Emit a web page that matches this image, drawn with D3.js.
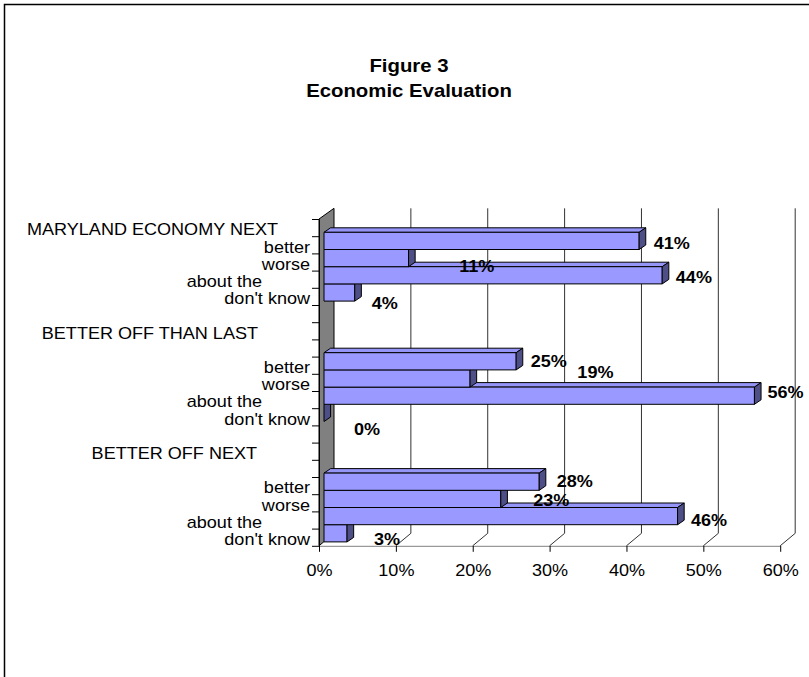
<!DOCTYPE html>
<html>
<head>
<meta charset="utf-8">
<script src="https://cdn.jsdelivr.net/npm/d3@7"></script>
<style>
  body { margin: 0; background: #fff; }
  svg { display: block; }
  text { font-family: "Liberation Sans", Arial, sans-serif; }
</style>
</head>
<body>
<svg id="chart" width="809" height="677"></svg>
<script>
// ---- chart data ----
const titleLines = ["Figure 3", "Economic Evaluation"];
const categories = [
  "MARYLAND ECONOMY NEXT", "better", "worse", "about the", "don't know", "",
  "BETTER OFF THAN LAST", "", "better", "worse", "about the", "don't know", "",
  "BETTER OFF NEXT", "", "better", "worse", "about the", "don't know"
];
const values = [
  null, 41, 11, 44, 4, null,
  null, null, 25, 19, 56, 0, null,
  null, null, 28, 23, 46, 3
];
const percentTicks = [0, 10, 20, 30, 40, 50, 60];

// ---- layout tweaks for text placement ----
// how far each category label's right end sits in from the axis
const labelIndent = [32, 0, 0, 48, 0, 0, 52, 0, 0, 0, 48, 0, 0, 53, 0, 0, 0, 48, 0];
// per-bar adjustment [dx, dy] of the value label from its default spot
const valueLabelNudge = [
  null, [0, 0], [36, 5], [-1, -0.5], [2.4, 8.3], null,
  null, null, [0, -3], [92.7, -8.7], [-1.6, -6.7], [15.4, 13.6], null,
  null, null, [2.9, -2.9], [17.9, -1.4], [-1.2, 1.1], [12.3, 3.2]
];

const W = 809, H = 677;
const STRETCH = 1.15;          // horizontal glyph stretch used for all text
const FONT = 15.7, TITLE_FONT = 17.7;

const svg = d3.select("#chart");

// outer frame
svg.append("rect")
  .attr("x", 4.5).attr("y", 4.5)
  .attr("width", W + 40).attr("height", H + 40)
  .attr("fill", "#fff").attr("stroke", "#000").attr("stroke-width", 1.5);

// title
svg.append("g").selectAll("text").data(titleLines).join("text")
  .attr("transform", (d, i) => `translate(409,${72 + i * 24.7}) scale(${STRETCH},1)`)
  .attr("text-anchor", "middle")
  .attr("font-weight", "bold")
  .attr("font-size", TITLE_FONT)
  .text(d => d);

// ---- scales ----
const yTop = 219, yBottom = 545.8;
const x = d3.scaleLinear().domain([0, 60]).range([319, 780.2]);
const y = d3.scaleBand().domain(d3.range(categories.length)).range([yTop, yBottom]);
const yEdge = d3.scaleLinear().domain([0, categories.length]).range([yTop, yBottom]);
const bw = y.bandwidth();

const wall = { dx: 15, dyTop: -10.7, dyBottom: -12.5 };
const barOff = { dx: 5, dy: -3.9 };
const barDepth = { dx: 6.6, dy: -4.5 };

const line = d3.line();

// left (side) wall
svg.append("path")
  .attr("d", line([
    [x(0), yTop], [x(0) + wall.dx, yTop + wall.dyTop],
    [x(0) + wall.dx, yBottom + wall.dyBottom], [x(0), yBottom]
  ]) + "Z")
  .attr("fill", "#808080").attr("stroke", "#000").attr("stroke-width", 1);

// gridlines on the back wall running down and forward across the floor
svg.append("g").selectAll("path").data(percentTicks.filter(v => v > 0)).join("path")
  .attr("d", v => line([
    [x(v) + wall.dx, yTop + wall.dyTop],
    [x(v) + wall.dx, yBottom + wall.dyBottom],
    [x(v), yBottom]
  ]))
  .attr("fill", "none").attr("stroke", "#333").attr("stroke-width", 1);

// value axis along the front edge of the floor
const xAxis = svg.append("g")
  .attr("transform", `translate(0,${yBottom})`)
  .call(d3.axisBottom(x).tickValues(percentTicks).tickFormat(d => d + "%")
    .tickSize(6).tickSizeOuter(0).tickPadding(13));
xAxis.select(".domain").attr("stroke", "#808080");
xAxis.selectAll(".tick line").attr("stroke", "#000");
xAxis.selectAll(".tick text")
  .attr("font-family", "Liberation Sans, Arial, sans-serif")
  .attr("font-size", FONT).attr("fill", "#000")
  .attr("transform", `scale(${STRETCH},1)`);

// category axis ticks on the wall's front edge
const yAxis = svg.append("g")
  .attr("transform", `translate(${x(0)},0)`)
  .call(d3.axisLeft(yEdge).tickValues(d3.range(categories.length + 1))
    .tickFormat("").tickSize(7).tickSizeOuter(0));
yAxis.select(".domain").attr("stroke", "#000");
yAxis.selectAll(".tick line").attr("stroke", "#000");

// category labels
svg.append("g").selectAll("text").data(categories).join("text")
  .attr("transform", (d, i) =>
    `translate(${x(0) - 9 - labelIndent[i]},${y(i) + bw - 0.8}) scale(${STRETCH},1)`)
  .attr("text-anchor", "end")
  .attr("font-size", FONT)
  .text(d => d);

// ---- 3D bars ----
const bars = values.map((v, i) => ({ v, i })).filter(d => d.v !== null);
const barG = svg.append("g")
  .attr("stroke", "#000").attr("stroke-width", 1).attr("stroke-linejoin", "round");

// draw from the bottom up so each bar's front covers the top face below it
bars.slice().reverse().forEach(d => {
  const x0 = x(0) + barOff.dx;
  const x1 = x(d.v) + barOff.dx;
  const t = y(d.i) + barOff.dy;
  const b = t + bw;
  const g = barG.append("g");
  if (d.v > 0) {
    g.append("path")
      .attr("d", line([[x0, t], [x0 + barDepth.dx, t + barDepth.dy],
        [x1 + barDepth.dx, t + barDepth.dy], [x1, t]]) + "Z")
      .attr("fill", "#9595f8");
    g.append("path")
      .attr("d", line([[x0, t], [x1, t], [x1, b], [x0, b]]) + "Z")
      .attr("fill", "#9999ff");
  }
  g.append("path")
    .attr("d", line([[x1, t], [x1 + barDepth.dx, t + barDepth.dy],
      [x1 + barDepth.dx, b + barDepth.dy], [x1, b]]) + "Z")
    .attr("fill", "#4f4f88");
});

// value labels
svg.append("g").selectAll("text").data(bars).join("text")
  .attr("transform", d => {
    const n = valueLabelNudge[d.i];
    const left = x(d.v) + barOff.dx + barDepth.dx + 8 + n[0];
    const base = y(d.i) + bw - 4 + n[1];
    return `translate(${left},${base}) scale(${STRETCH},1)`;
  })
  .attr("font-weight", "bold")
  .attr("font-size", FONT)
  .text(d => d.v + "%");
</script>
</body>
</html>
